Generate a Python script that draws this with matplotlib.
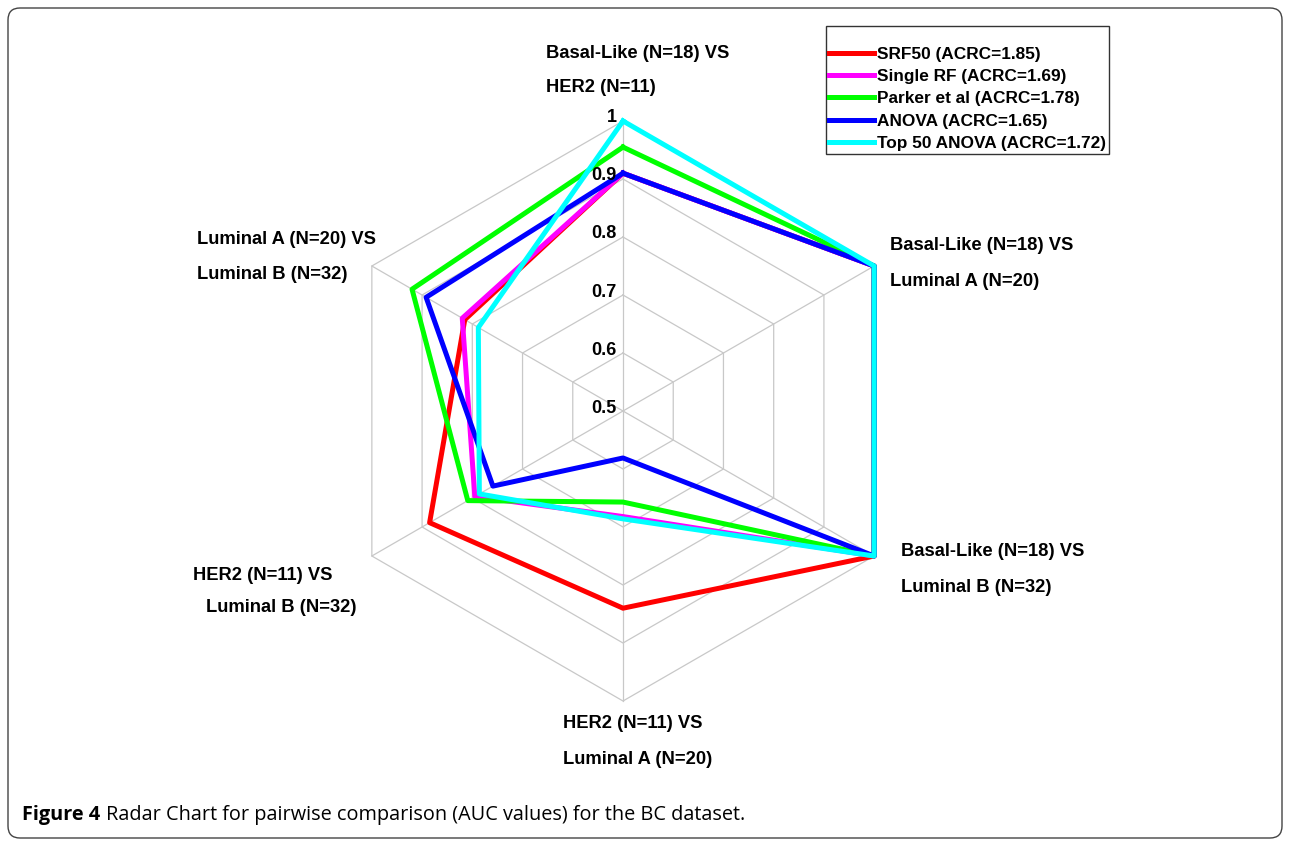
import numpy as np
import matplotlib.pyplot as plt
import matplotlib.transforms as mtransforms
from matplotlib.patches import FancyBboxPatch

plt.rcParams['font.family'] = ['Liberation Sans', 'DejaVu Sans']

# ---------------- data (AUC per pairwise comparison, clockwise from top) ----------------
axis_labels = [
    ["Basal-Like (N=18) VS", "HER2 (N=11)"],
    ["Basal-Like (N=18) VS", "Luminal A (N=20)"],
    ["Basal-Like (N=18) VS", "Luminal B (N=32)"],
    ["HER2 (N=11) VS", "Luminal A (N=20)"],
    ["HER2 (N=11) VS", "Luminal B (N=32)"],
    ["Luminal A (N=20) VS", "Luminal B (N=32)"],
]
srf50 = [0.91, 1.0, 1.0, 0.84, 0.885, 0.815]
single_rf = [0.91, 1.0, 1.0, 0.682, 0.795, 0.82]
parker = [0.955, 1.0, 1.0, 0.657, 0.809, 0.92]
anova = [0.91, 1.0, 1.0, 0.581, 0.759, 0.892]
top50_anova = [1.0, 1.0, 1.0, 0.686, 0.786, 0.788]

series_names = ["SRF50 (ACRC=1.85)", "Single RF (ACRC=1.69)", "Parker et al (ACRC=1.78)",
                "ANOVA (ACRC=1.65)", "Top 50 ANOVA (ACRC=1.72)"]
series_colors = ["#ff0000", "#ff00ff", "#00ff00", "#0000ff", "#00ffff"]
ring_levels = [0.5, 0.6, 0.7, 0.8, 0.9, 1.0]
ring_texts = ["0.5", "0.6", "0.7", "0.8", "0.9", "1"]

# pixel positions of the two lines of each axis label
label_pos = [[(546, 53), (546, 88)],
             [(890, 245), (890, 281)],
             [(901, 551), (901, 587)],
             [(563, 724), (563, 760)],
             [(193, 576), (206, 607)],
             [(197, 239), (197, 274)]]

W, H = 1290, 844
fig = plt.figure(figsize=(W / 100, H / 100), dpi=100)

cx, cy, R = 623, 411, 290
ax = fig.add_axes([(cx - R) / W, 1 - (cy + R) / H, 2 * R / W, 2 * R / H], projection='polar')
ax.set_theta_offset(np.pi / 2)
ax.set_theta_direction(-1)
ax.set_ylim(0.5, 1.0)
ax.axis('off')

n = len(axis_labels)
theta = np.arange(n) * 2 * np.pi / n
theta_c = np.append(theta, theta[0])

# hexagonal grid
grid_col = '#c8c8c8'
for lv in ring_levels[1:]:
    ax.plot(theta_c, [lv] * (n + 1), color=grid_col, lw=0.9, clip_on=False, zorder=1)
for t in theta:
    ax.plot([t, t], [0.5, 1.0], color=grid_col, lw=0.9, clip_on=False, zorder=1)

# radial tick labels on the top spoke
off = mtransforms.offset_copy(ax.transData, fig=fig, x=-6, y=3, units='dots')
for lv, txt in zip(ring_levels, ring_texts):
    ax.text(0, lv, txt, transform=off, ha='right', va='center',
            fontsize=13, fontweight='bold', zorder=5)

# series
handles = []
for vals, name, col in zip([srf50, single_rf, parker, anova, top50_anova], series_names, series_colors):
    v = np.append(vals, vals[0])
    ln, = ax.plot(theta_c, v, color=col, lw=3.6, label=name, clip_on=False, zorder=3)
    handles.append(ln)

# axis labels
for lines, pos in zip(axis_labels, label_pos):
    for txt, (px, py) in zip(lines, pos):
        fig.text(px / W, 1 - py / H, txt, ha='left', va='center',
                 fontsize=13.2, fontweight='bold')

leg = fig.legend(handles=handles, loc='upper left', bbox_to_anchor=(826 / W, 1 - 26 / H),
                 frameon=True, fancybox=False, edgecolor='#333333', framealpha=1,
                 prop={'weight': 'bold', 'size': 12.4}, handlelength=2.6, handletextpad=0.15,
                 labelspacing=0.42, borderpad=0.2, borderaxespad=0, title=' ',
                 title_fontsize=8)
leg.get_frame().set_linewidth(1.0)

# journal frame and caption
frame = FancyBboxPatch((8, 6), W - 16, H - 14, boxstyle="round,pad=0,rounding_size=12",
                       transform=mtransforms.IdentityTransform(), fill=False,
                       ec='#444444', lw=1.0)
fig.patches.append(frame)

cap_y = 1 - 815 / H
t1 = fig.text(22 / W, cap_y, "Figure 4", fontsize=14.3, fontweight='bold',
              family=['Open Sans', 'DejaVu Sans'], va='center')
renderer = fig.canvas.get_renderer()
bb = t1.get_window_extent(renderer=renderer)
fig.text((bb.x1 + 6) / W, cap_y,
         "Radar Chart for pairwise comparison (AUC values) for the BC dataset.",
         fontsize=14.3, family=['Open Sans', 'DejaVu Sans'], va='center')

fig.savefig('out.png', dpi=100)
